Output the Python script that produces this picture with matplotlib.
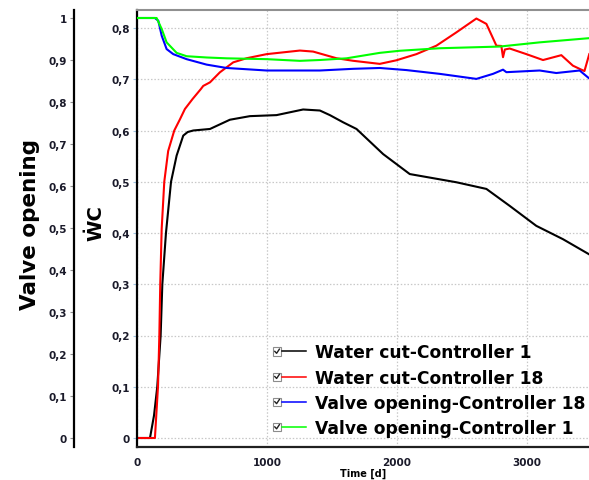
import matplotlib
matplotlib.use("Agg")
import matplotlib.pyplot as plt
from matplotlib.legend_handler import HandlerLine2D
from matplotlib.patches import Rectangle
from matplotlib.lines import Line2D
from matplotlib.ticker import FuncFormatter

# Water cut, controller 1 (left WC axis)
wc1_t = [0, 100, 131, 156, 182, 195, 223, 262, 305, 356, 390, 433, 562, 715, 869, 1074,
         1279, 1408, 1485, 1587, 1690, 1895, 2100, 2459, 2690, 2869, 3074, 3279, 3477]
wc1_v = [0, 0, 0.044, 0.1, 0.2, 0.3, 0.4, 0.5, 0.551, 0.59, 0.597, 0.600, 0.603, 0.621, 0.628,
         0.630, 0.641, 0.639, 0.630, 0.616, 0.603, 0.554, 0.515, 0.499, 0.486, 0.453, 0.414,
         0.388, 0.359]

# Water cut, controller 18
wc18_t = [0, 138, 162, 172, 179, 190, 210, 240, 287, 331, 369, 428, 492, 510, 562, 638, 741,
          844, 998, 1254, 1356, 1536, 1664, 1869, 1997, 2151, 2305, 2459, 2613, 2690, 2767,
          2805, 2818, 2832, 2869, 2998, 3126, 3267, 3356, 3421, 3445, 3482]
wc18_v = [0, 0, 0.102, 0.2, 0.3, 0.408, 0.5, 0.56, 0.6, 0.622, 0.642, 0.6615, 0.681, 0.687,
          0.694, 0.7135, 0.733, 0.741, 0.749, 0.756, 0.754, 0.741, 0.736, 0.730, 0.737, 0.749,
          0.7655, 0.7915, 0.8185, 0.808, 0.7655, 0.765, 0.743, 0.758, 0.760, 0.749, 0.7375,
          0.747, 0.7265, 0.7187, 0.716, 0.749]

# Valve opening, controller 18 (outer valve axis)
vo18_t = [0, 138, 164, 190, 228, 279, 382, 536, 690, 998, 1408, 1664, 1869, 2074, 2331,
          2613, 2741, 2818, 2844, 3100, 3228, 3408, 3482]
vo18_v = [1.0, 1.0, 0.9935, 0.958, 0.926, 0.914, 0.902, 0.889, 0.881, 0.875, 0.875, 0.879,
          0.881, 0.876, 0.867, 0.855, 0.867, 0.877, 0.871, 0.875, 0.869, 0.875, 0.856]

# Valve opening, controller 1
vo1_t = [0, 151, 190, 228, 305, 382, 536, 690, 998, 1254, 1408, 1613, 1869, 2023, 2331,
         2792, 3100, 3482]
vo1_v = [1.0, 1.0, 0.974, 0.942, 0.917, 0.909, 0.906, 0.904, 0.902, 0.898, 0.900, 0.904,
         0.917, 0.922, 0.928, 0.932, 0.942, 0.952]

wc_ticks = [0, 0.1, 0.2, 0.3, 0.4, 0.5, 0.6, 0.7, 0.8]
valve_ticks = [0, 0.1, 0.2, 0.3, 0.4, 0.5, 0.6, 0.7, 0.8, 0.9, 1.0]
time_ticks = [0, 1000, 2000, 3000]


def comma_fmt(v, pos):
    s = ("%.1f" % v).rstrip("0").rstrip(".")
    return s.replace(".", ",")


class CheckboxHandler(HandlerLine2D):
    # legend handle with a little ticked checkbox in front of the line
    def create_artists(self, legend, orig_handle, xdescent, ydescent, width, height,
                       fontsize, trans):
        s = 5.8
        y0 = -ydescent + (height - s) / 2
        x0 = -xdescent
        box = Rectangle((x0, y0), s, s, facecolor="white", edgecolor="#8c8c8c",
                        linewidth=0.8, transform=trans)
        tick = Line2D([x0 + 1.3, x0 + 2.6, x0 + 4.6], [y0 + 3.0, y0 + 1.6, y0 + 4.6],
                      color="#202020", linewidth=1.0, transform=trans)
        ly = -ydescent + height / 2
        line = Line2D([x0 + s + 1.0, x0 + width], [ly, ly], color=orig_handle.get_color(),
                      linewidth=1.1, transform=trans)
        return [box, tick, line]


W, H = 589, 481
fig = plt.figure(figsize=(W / 100, H / 100), dpi=100)
ax = fig.add_axes([137 / W, (H - 448) / H, 452 / W, 437 / H])

grid_kw = dict(color="#c8c8c8", linestyle=(0, (1.2, 1.5)), linewidth=0.9)
ax.set_xlim(0, 3480)
ax.set_ylim(-9 / 512.5, 0.8 + 18 / 512.5)
ax.set_xticks(time_ticks)
ax.set_yticks(wc_ticks)
ax.yaxis.set_major_formatter(FuncFormatter(comma_fmt))
ax.grid(True, **grid_kw)
ax.set_axisbelow(True)

ax.spines["right"].set_visible(False)
ax.spines["top"].set_color("#909090")
ax.spines["top"].set_linewidth(1.5)
ax.spines["left"].set_linewidth(1.6)
ax.spines["bottom"].set_linewidth(1.6)
ax.spines["bottom"].set_color("#202020")
ax.tick_params(axis="y", length=3, width=0.8, color="#9ec3e0", pad=2,
               labelsize=7.5, labelcolor="#1a1a2a")
ax.tick_params(axis="x", length=0, pad=7, labelsize=7.5, labelcolor="#1a1a2a")
for lab in ax.get_xticklabels() + ax.get_yticklabels():
    lab.set_fontweight("bold")
ax.set_xlabel("Time [d]", fontsize=7, fontweight="bold", labelpad=1)

l1, = ax.plot(wc1_t, wc1_v, color="black", linewidth=1.5, label="Water cut-Controller 1")
l2, = ax.plot(wc18_t, wc18_v, color="#ff0000", linewidth=1.5, label="Water cut-Controller 18")

ax2 = ax.twinx()
ax2.set_ylim(-9 / 420, 1 + 8 / 420)
ax2.spines["left"].set_position(("axes", -63 / 452))
ax2.spines["left"].set_visible(True)
ax2.spines["left"].set_linewidth(1.6)
for side in ("right", "top", "bottom"):
    ax2.spines[side].set_visible(False)
ax2.yaxis.set_ticks_position("left")
ax2.yaxis.set_label_position("left")
ax2.set_yticks(valve_ticks)
ax2.yaxis.set_major_formatter(FuncFormatter(comma_fmt))
ax2.tick_params(axis="y", length=3, width=0.8, color="#909090", pad=2,
                labelsize=7.5, labelcolor="#1a1a2a")
for lab in ax2.get_yticklabels():
    lab.set_fontweight("bold")

l3, = ax2.plot(vo18_t, vo18_v, color="#0000ff", linewidth=1.5,
               label="Valve opening-Controller 18")
l4, = ax2.plot(vo1_t, vo1_v, color="#00ff00", linewidth=1.5,
               label="Valve opening-Controller 1")

fig.text(30 / W, 1 - 225 / H, "Valve opening", rotation=90, fontsize=15.5,
         fontweight="bold", ha="center", va="center")
fig.text(96 / W, 1 - 223 / H, "ẆC", rotation=90, fontsize=14,
         fontweight="bold", ha="center", va="center")

handles = [l1, l2, l3, l4]
leg = ax2.legend(handles=handles, loc="lower left",
                 bbox_to_anchor=(273 / W, (H - 438) / H), bbox_transform=fig.transFigure,
                 frameon=False, prop=dict(weight="bold", size=12.3),
                 handlelength=1.95, handletextpad=0.5, labelspacing=0.42,
                 borderpad=0, borderaxespad=0,
                 handler_map={Line2D: CheckboxHandler()})

fig.savefig("out.png", dpi=100)
